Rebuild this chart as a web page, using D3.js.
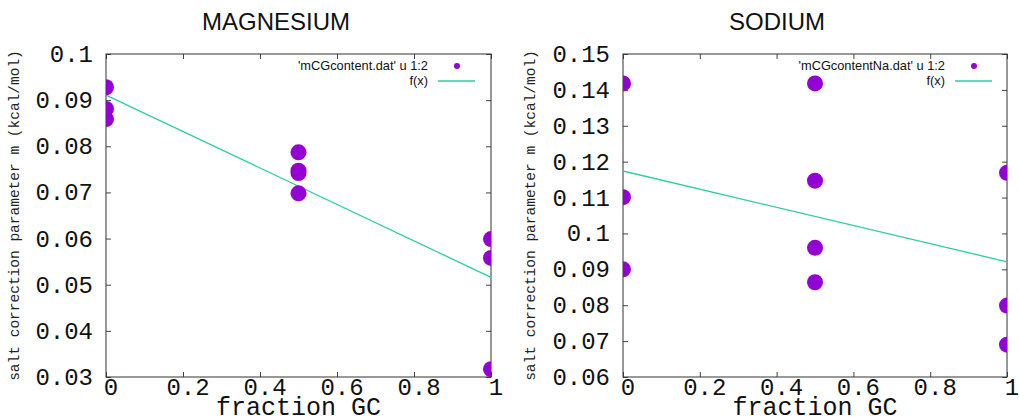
<!DOCTYPE html>
<html>
<head>
<meta charset="utf-8">
<script src="https://d3js.org/d3.v7.min.js"></script>
<style>
  body { margin: 0; background: #fff; }
  .tick-lbl { font-family: "Liberation Mono", "DejaVu Sans Mono", monospace; font-size: 24px; fill: #111; }
  .xtitle { font-family: "Liberation Mono", monospace; font-size: 25px; fill: #111; }
  .ytitle { font-family: "Liberation Mono", monospace; font-size: 14.5px; fill: #222; }
  .title { font-family: "Liberation Sans", Arial, sans-serif; font-size: 24px; fill: #111; }
  .key { font-family: "Liberation Sans", Arial, sans-serif; font-size: 12.8px; fill: #111; }
</style>
</head>
<body>
<svg id="chart"></svg>
<script>
// fraction GC of each measured point
const mgX = [0, 0, 0, 0.5, 0.5, 0.5, 0.5, 1, 1, 1]
const mgY = [0.0928, 0.0881, 0.0859, 0.0787, 0.0747, 0.0742, 0.0698, 0.0599, 0.0558, 0.0317]
const naX = [0, 0, 0, 0.5, 0.5, 0.5, 0.5, 1, 1, 1]
const naY = [0.1418, 0.1101, 0.0900, 0.1418, 0.1147, 0.0960, 0.0864, 0.1169, 0.0799, 0.0690]

// f(x) = a + b*x fits
const mgFit = [0.0911, -0.0395]
const naFit = [0.1174, -0.0253]

const xTicks = [0, 0.2, 0.4, 0.6, 0.8, 1]
const mgTicks = [0.03, 0.04, 0.05, 0.06, 0.07, 0.08, 0.09, 0.1]
const naTicks = [0.06, 0.07, 0.08, 0.09, 0.1, 0.11, 0.12, 0.13, 0.14, 0.15]

const panels = [
  { title: 'MAGNESIUM', titleX: 276, left: 106, right: 491, ylabX: 19,
    xs: mgX, ys: mgY, fit: mgFit, yDom: [0.03, 0.1], yTicks: mgTicks,
    key: "'mCGcontent.dat' u 1:2", keyX: 428 },
  { title: 'SODIUM', titleX: 777, left: 623, right: 1007, ylabX: 535,
    xs: naX, ys: naY, fit: naFit, yDom: [0.06, 0.15], yTicks: naTicks,
    key: "'mCGcontentNa.dat' u 1:2", keyX: 945 }
]

const plotTop = 54, plotBottom = 377
const purple = '#9400d3', teal = '#2ccf9f'

const svg = d3.select('#chart')
  .attr('width', 1019)
  .attr('height', 420)

const fmt = d => d === 0 ? '0' : d === 1 ? '1' : String(+d.toFixed(2))

panels.forEach((p, k) => {
  const x = d3.scaleLinear().domain([0, 1]).range([p.left, p.right])
  const y = d3.scaleLinear().domain(p.yDom).range([plotBottom, plotTop])
  const g = svg.append('g')

  const clipId = 'clip' + k
  g.append('clipPath').attr('id', clipId)
    .append('rect')
      .attr('x', p.left).attr('y', plotTop)
      .attr('width', p.right - p.left).attr('height', plotBottom - plotTop)

  // inward ticks on all four sides
  const tl = 5
  g.append('g').attr('transform', `translate(0,${plotBottom})`)
    .call(d3.axisBottom(x).tickValues(xTicks).tickSize(-tl).tickFormat(''))
  g.append('g').attr('transform', `translate(0,${plotTop})`)
    .call(d3.axisTop(x).tickValues(xTicks).tickSize(-tl).tickFormat(''))
  g.append('g').attr('transform', `translate(${p.left},0)`)
    .call(d3.axisLeft(y).tickValues(p.yTicks).tickSize(-tl).tickFormat(''))
  g.append('g').attr('transform', `translate(${p.right},0)`)
    .call(d3.axisRight(y).tickValues(p.yTicks).tickSize(-tl).tickFormat(''))
  g.selectAll('.domain').remove()
  g.selectAll('.tick line').attr('stroke', '#444')

  // tick labels
  g.selectAll('.xl').data(xTicks).join('text')
    .attr('class', 'tick-lbl')
    .attr('x', d => x(d) + 5)
    .attr('y', 395)
    .attr('text-anchor', 'middle')
    .text(fmt)
  g.selectAll('.yl').data(p.yTicks).join('text')
    .attr('class', 'tick-lbl')
    .attr('x', p.left - 13)
    .attr('y', d => y(d) + 8)
    .attr('text-anchor', 'end')
    .text(fmt)

  // frame
  g.append('rect')
    .attr('x', p.left).attr('y', plotTop)
    .attr('width', p.right - p.left).attr('height', plotBottom - plotTop)
    .attr('fill', 'none').attr('stroke', '#333').attr('stroke-width', 1)

  // fit line
  g.append('line')
    .attr('x1', x(0)).attr('y1', y(p.fit[0]))
    .attr('x2', x(1)).attr('y2', y(p.fit[0] + p.fit[1]))
    .attr('stroke', teal).attr('stroke-width', 1.3)

  // data points, clipped to plot area
  g.append('g').attr('clip-path', `url(#${clipId})`)
    .selectAll('circle').data(p.xs).join('circle')
      .attr('cx', d => x(d))
      .attr('cy', (d, i) => y(p.ys[i]))
      .attr('r', 8)
      .attr('fill', purple)

  // key
  g.append('text').attr('class', 'key')
    .attr('x', p.keyX).attr('y', 70).attr('text-anchor', 'end').text(p.key)
  g.append('circle').attr('cx', p.keyX + 29).attr('cy', 66).attr('r', 3).attr('fill', purple)
  g.append('text').attr('class', 'key')
    .attr('x', p.keyX).attr('y', 85).attr('text-anchor', 'end').text('f(x)')
  g.append('line')
    .attr('x1', p.keyX + 10).attr('x2', p.keyX + 47)
    .attr('y1', 81).attr('y2', 81)
    .attr('stroke', teal).attr('stroke-width', 1.3)

  // titles
  g.append('text').attr('class', 'title')
    .attr('x', p.titleX).attr('y', 30).attr('text-anchor', 'middle').text(p.title)
  g.append('text').attr('class', 'xtitle')
    .attr('x', (p.left + p.right) / 2).attr('y', 415).attr('text-anchor', 'middle')
    .text('fraction GC')
  g.append('text').attr('class', 'ytitle')
    .attr('transform', `translate(${p.ylabX},${(plotTop + plotBottom) / 2}) rotate(-90)`)
    .attr('text-anchor', 'middle')
    .text('salt correction parameter m (kcal/mol)')
})
</script>
</body>
</html>
